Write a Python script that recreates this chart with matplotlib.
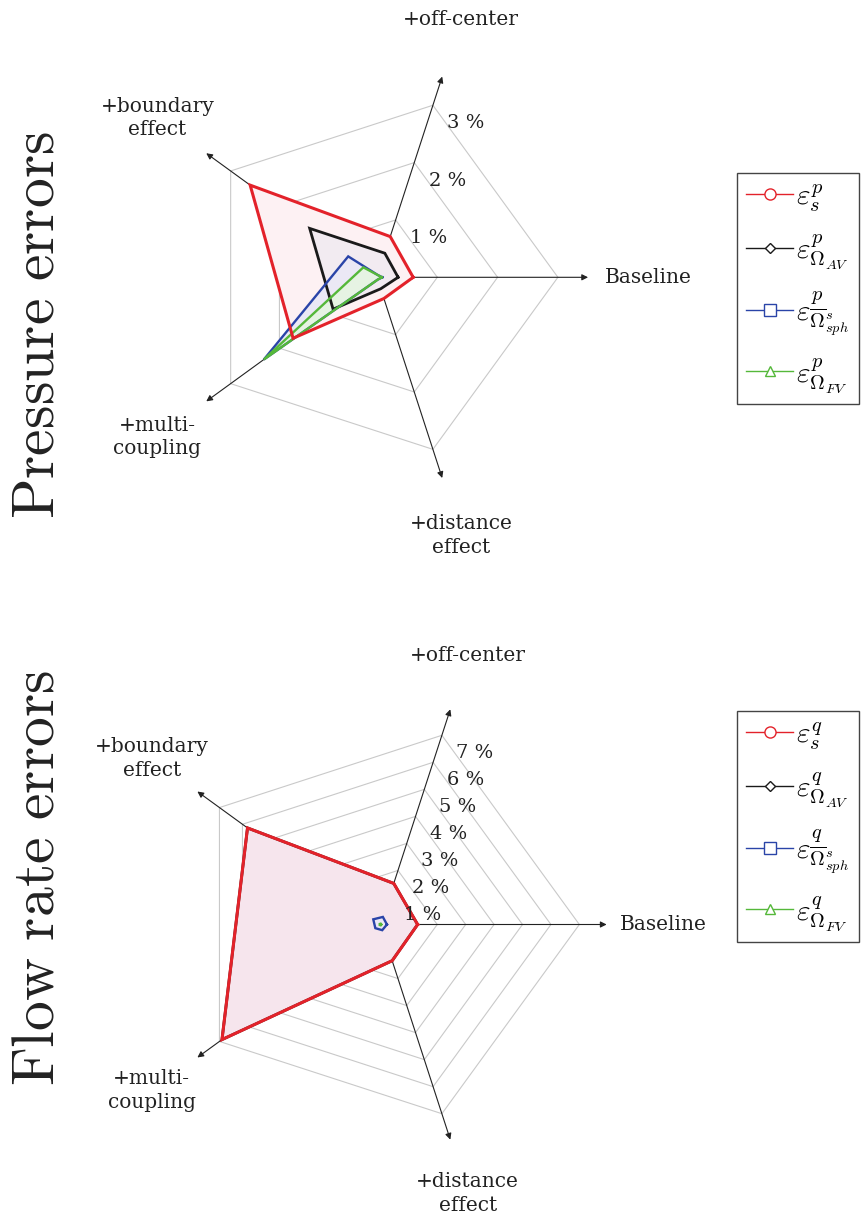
import numpy as np
import matplotlib.pyplot as plt
from matplotlib.lines import Line2D

# Axis order goes counter-clockwise from the right
categories = ['Baseline', '+off-center', '+boundary\neffect', '+multi-\ncoupling', '+distance\neffect']

# Pressure errors (%)
p_s = [0.60, 0.71, 2.60, 1.72, 0.37]
p_av = [0.35, 0.42, 1.38, 0.90, 0.20]
p_sph = [0.09, 0.04, 0.59, 2.32, 0.04]
p_fv = [0.08, 0.04, 0.28, 2.32, 0.04]
p_ticks = [1, 2, 3]

# Flow rate errors (%)
q_s = [1.31, 1.52, 5.78, 6.89, 1.34]
q_av = [1.31, 1.52, 5.78, 6.89, 1.34]
q_sph = [0.23, 0.28, 0.31, 0.22, 0.21]
q_fv = [0.03, 0.03, 0.03, 0.03, 0.03]
q_ticks = [1, 2, 3, 4, 5, 6, 7]

p_labels = [r'$\varepsilon^p_s$', r'$\varepsilon^p_{\Omega_{AV}}$',
            r'$\varepsilon^p_{\overline{\Omega}^s_{sph}}$', r'$\varepsilon^p_{\Omega_{FV}}$']
q_labels = [r'$\varepsilon^q_s$', r'$\varepsilon^q_{\Omega_{AV}}$',
            r'$\varepsilon^q_{\overline{\Omega}^s_{sph}}$', r'$\varepsilon^q_{\Omega_{FV}}$']

colors = ['#e3222a', '#1a1a1a', '#2a44a8', '#55b83a']
markers = ['o', 'D', 's', '^']
msizes = [8, 5, 8, 7]
widths = [2.2, 2.0, 1.7, 1.7]
line_z = [5.3, 5.0, 5.1, 5.2]

plt.rcParams['mathtext.fontset'] = 'cm'
SERIF = 'DejaVu Serif'

W, H = 862, 1220
fig = plt.figure(figsize=(W / 100, H / 100), dpi=100)


def place_axes(cx, cy, scale, box):
    """Axes whose data origin sits at pixel (cx, cy), 'scale' px per unit."""
    x0, y0, x1, y1 = box
    ax = fig.add_axes([x0 / W, 1 - y1 / H, (x1 - x0) / W, (y1 - y0) / H])
    ax.set_xlim((x0 - cx) / scale, (x1 - cx) / scale)
    ax.set_ylim((cy - y1) / scale, (cy - y0) / scale)
    ax.axis('off')
    return ax


def draw_radar(ax, series, ticks, axis_len, label_r, fills):
    angles = np.deg2rad(np.arange(len(categories)) * 72)
    closed = np.append(angles, angles[0])

    # pentagon grid rings
    for t in ticks:
        ax.plot(t * np.cos(closed), t * np.sin(closed), color='#c9c9c9', lw=0.8, zorder=1)

    # axes with arrows and names
    for a, name in zip(angles, categories):
        ax.annotate('', xy=(axis_len * np.cos(a), axis_len * np.sin(a)), xytext=(0, 0),
                    arrowprops=dict(arrowstyle='-|>', color='#222222', lw=0.8,
                                    mutation_scale=9, shrinkA=0, shrinkB=0),
                    zorder=2)
        ax.text(label_r * np.cos(a), label_r * np.sin(a), name, ha='center', va='center',
                fontsize=14.5, family=SERIF, color='#222222', linespacing=1.3)

    # percentage labels next to the off-center axis
    for t in ticks:
        ax.annotate(f'{t} %', xy=(t * np.cos(angles[1]), t * np.sin(angles[1])),
                    xytext=(33, -18), textcoords='offset pixels', ha='center', va='center',
                    fontsize=14, family=SERIF, color='#222222', zorder=10)

    # data polygons
    for i, vals in enumerate(series):
        r = np.append(vals, vals[0])
        x = r * np.cos(closed)
        y = r * np.sin(closed)
        ax.fill(x, y, color=fills[i], lw=0, zorder=3 + 0.1 * i)
        ax.plot(x, y, color=colors[i], lw=widths[i], zorder=line_z[i], solid_joinstyle='miter')


def add_legend(labels, top):
    handles = [Line2D([], [], color=c, lw=1, marker=m, markersize=ms,
                      markerfacecolor='white', markeredgecolor=c, markeredgewidth=1)
               for c, m, ms in zip(colors, markers, msizes)]
    leg = fig.legend(handles, labels, loc='upper left', bbox_to_anchor=(737 / W, 1 - top / H),
                     borderaxespad=0, fontsize=21, frameon=True, fancybox=False,
                     edgecolor='#444444', framealpha=1, handlelength=1.6,
                     handletextpad=0.12, labelspacing=0.62, borderpad=0.32)
    leg.get_frame().set_linewidth(1.0)


# Pressure chart
ax1 = place_axes(377, 277.3, 60.3, (90, 0, 730, 600))
draw_radar(ax1, [p_s, p_av, p_sph, p_fv], p_ticks, 3.5, 4.5,
           ['#fdf1f3', '#f2ebf1', '#ebe8f5', '#e6f3e3'])
add_legend(p_labels, 173)

# Flow rate chart
ax2 = place_axes(380.4, 924.5, 28.42, (90, 610, 730, 1220))
draw_radar(ax2, [q_s, q_av, q_sph, q_fv], q_ticks, 7.96, 9.95,
           ['#f6e5ed', '#f6e5ed', '#ebe8f5', '#e6f3e3'])
add_legend(q_labels, 711)

fig.text(37 / W, 1 - 325 / H, r'$\mathrm{Pressure\ errors}$', rotation=90,
         ha='center', va='center', fontsize=43, color='#222222')
fig.text(37 / W, 1 - 878 / H, r'$\mathrm{Flow\ rate\ errors}$', rotation=90,
         ha='center', va='center', fontsize=43, color='#222222')

fig.savefig('out.png', dpi=100)
